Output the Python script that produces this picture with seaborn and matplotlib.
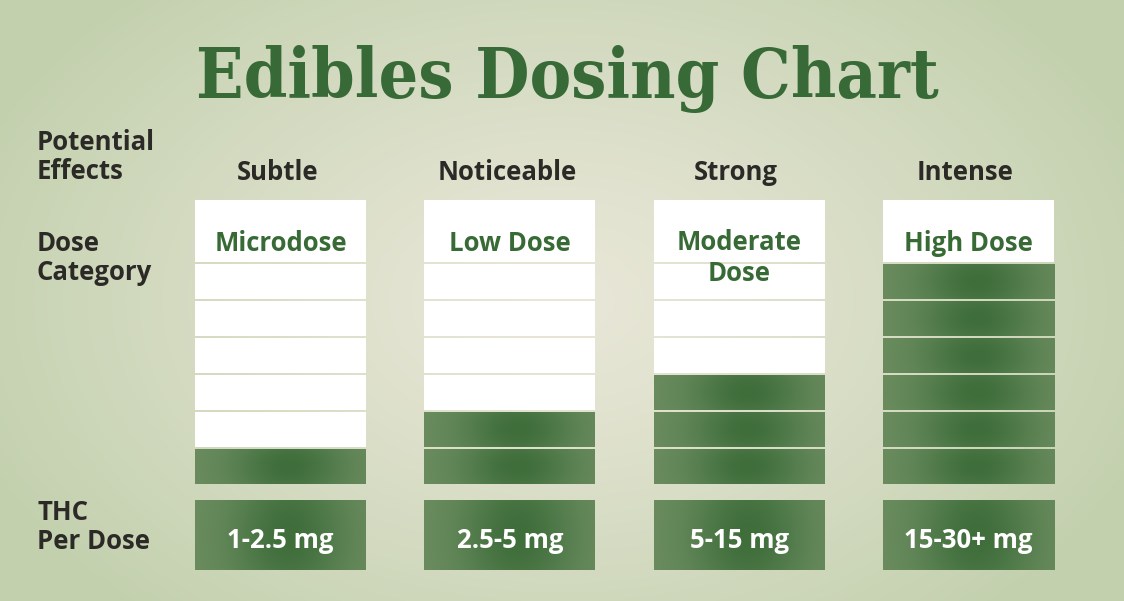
import numpy as np
import pandas as pd
import matplotlib
matplotlib.use("Agg")
import matplotlib.pyplot as plt
import seaborn as sns
from matplotlib.colors import to_rgb

# ---------------- data ----------------
title = "Edibles Dosing Chart"
effects = ["Subtle", "Noticeable", "Strong", "Intense"]
dose_categories = ["Microdose", "Low Dose", "Moderate\nDose", "High Dose"]
thc_per_dose = ["1-2.5 mg", "2.5-5 mg", "5-15 mg", "15-30+ mg"]
filled_levels = [1, 2, 3, 6]
total_levels = 6
row_labels = ["Potential\nEffects", "Dose\nCategory", "THC\nPer Dose"]

# ---------------- style ----------------
sns.set_theme(style="white")
plt.rcParams["font.family"] = ["Open Sans", "DejaVu Sans"]

GREEN_TXT = "#386a36"
DARK_TXT = "#2b2a27"
GREEN_EDGE = np.array(to_rgb("#6c8d60"))
GREEN_MID = np.array(to_rgb("#3f6e3b"))

W, H = 1124, 601
fig = plt.figure(figsize=(W / 100, H / 100), dpi=100)

# background with radial gradient (pixel coordinates)
bg = fig.add_axes([0, 0, 1, 1])
bg.set_xlim(0, W)
bg.set_ylim(H, 0)
bg.axis("off")
yy, xx = np.mgrid[0:H, 0:W]
r = np.sqrt(((xx - 560) / 640) ** 2 + ((yy - 300) / 430) ** 2)
r = np.clip(r, 0, 1) ** 1.2
c0 = np.array(to_rgb("#e9e7d8"))
c1 = np.array(to_rgb("#c2d0ad"))
bg.imshow(c0 + (c1 - c0) * r[..., None], extent=[0, W, H, 0], aspect="auto", zorder=0)

# data axes: x = column index, y = dose level units
px_per_unit = 37.0
base_px = 485.0           # pixel row of level 0
top_px, bot_px = 190.0, 590.0
left_px = 280.5 - 0.5 * 229.3
width_px = 4 * 229.3
ax = fig.add_axes([left_px / W, (H - bot_px) / H, width_px / W, (bot_px - top_px) / H])
ylo = -(bot_px - base_px) / px_per_unit
yhi = (base_px - top_px) / px_per_unit

bar_w = 171 / 229.3
gap = 0.07
header_top = (base_px - 200) / px_per_unit
thc_top = -(500 - base_px) / px_per_unit
thc_bot = -(570 - base_px) / px_per_unit


def grad_img(nx=240, ny=60):
    x = np.linspace(0, 1, nx)
    y = np.linspace(0, 1, ny)
    X, Y = np.meshgrid(x, y)
    f = np.exp(-((X - 0.55) / 0.34) ** 2) * (1 - 0.2 * ((Y - 0.5) / 0.5) ** 2)
    return GREEN_EDGE + (GREEN_MID - GREEN_EDGE) * f[..., None]


def shade(patch):
    x0, y0 = patch.get_x(), patch.get_y()
    w, h = patch.get_width(), patch.get_height()
    im = ax.imshow(grad_img(), extent=[x0, x0 + w, y0, y0 + h], aspect="auto",
                   origin="lower", zorder=3, interpolation="bilinear")
    im.set_clip_path(patch)


cols = list(range(len(effects)))
seg = pd.DataFrame([(i, k, k <= filled_levels[i]) for i in cols
                    for k in range(1, total_levels + 1)],
                   columns=["col", "level", "filled"])

# dose level segments
for k in range(1, total_levels + 1):
    d = seg[seg["level"] == k].assign(h=1 - gap)
    pal = {int(c): ("#557f4c" if f else "white") for c, f in zip(d["col"], d["filled"])}
    n0 = len(ax.patches)
    sns.barplot(data=d, x="col", y="h", hue="col", palette=pal, legend=False,
                width=bar_w, bottom=k - 1 + gap / 2, native_scale=True,
                saturation=1, linewidth=0, errorbar=None, ax=ax, zorder=2)
    for p, f in zip(ax.patches[n0:], d["filled"]):
        if f:
            shade(p)

# header boxes (dose category)
hdr = pd.DataFrame({"col": cols, "h": header_top - total_levels - 0.02})
sns.barplot(data=hdr, x="col", y="h", color="white", width=bar_w,
            bottom=total_levels + 0.02, native_scale=True, saturation=1,
            linewidth=0, errorbar=None, ax=ax, zorder=2)

# THC boxes
thc = pd.DataFrame({"col": cols, "h": thc_top - thc_bot})
n0 = len(ax.patches)
sns.barplot(data=thc, x="col", y="h", color="#557f4c", width=bar_w,
            bottom=thc_bot, native_scale=True, saturation=1,
            linewidth=0, errorbar=None, ax=ax, zorder=2)
for p in ax.patches[n0:]:
    shade(p)

# texts inside the data axes
FS = 18.5
lab_y = (base_px - 243) / px_per_unit
for i, lab in enumerate(dose_categories):
    if "\n" in lab:
        ax.text(i, (base_px - 258) / px_per_unit, lab, ha="center", va="center",
                fontsize=FS, fontweight="bold", color=GREEN_TXT,
                linespacing=1.15, zorder=5)
    else:
        ax.text(i, lab_y, lab, ha="center", va="center", fontsize=FS,
                fontweight="bold", color=GREEN_TXT, zorder=5)
for i, lab in enumerate(thc_per_dose):
    ax.text(i, -(541 - base_px) / px_per_unit, lab, ha="center", va="center",
            fontsize=FS, fontweight="bold", color="white", zorder=5)

ax.set_xlim(-0.5, len(effects) - 0.5)
ax.set_ylim(ylo, yhi)
ax.axis("off")

# texts in pixel space
bg.text(567, 79, title, ha="center", va="center", fontsize=50,
        fontweight="bold", family="DejaVu Serif", fontstretch="condensed",
        color="#376a37")
col_px = [280.5 + 229.3 * i for i in cols]
for x, lab in zip(col_px, effects):
    bg.text(x - 3, 172, lab, ha="center", va="center", fontsize=FS,
            fontweight="bold", color=DARK_TXT)
for y, lab in zip([157, 258, 527], row_labels):
    bg.text(37, y, lab, ha="left", va="center", fontsize=FS,
            fontweight="bold", color=DARK_TXT, linespacing=1.1)

fig.savefig("out.png", dpi=100)
